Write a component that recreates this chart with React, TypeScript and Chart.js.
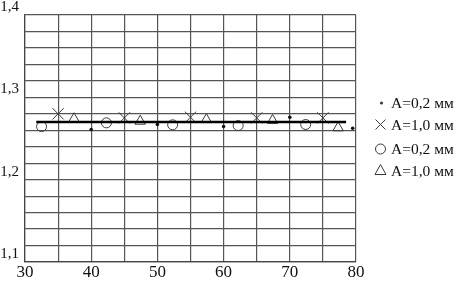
import React, { useEffect, useRef } from "react";
import { Chart, registerables } from "chart.js";

Chart.register(...registerables);

const lineX = [31.7, 78.5];
const lineY = [1.27, 1.27];

const dotX = [40, 50, 60, 70, 79.5];
const dotY = [1.261, 1.267, 1.2645, 1.2758, 1.2625];

const crossX = [35, 45, 55, 65, 75];
const crossY = [1.28, 1.275, 1.2758, 1.275, 1.275];

const circleX = [32.5, 42.3, 52.3, 62.2, 72.4];
const circleY = [1.2645, 1.269, 1.2666, 1.2657, 1.267];

const triX = [37.4, 47.4, 57.4, 67.4, 77.3];
const triY = [1.274, 1.271, 1.273, 1.272, 1.263];

const legendLabels = ["A=0,2 мм", "A=1,0 мм", "A=0,2 мм", "A=1,0 мм"];
const legendStyles = ["dot", "cross", "circle", "triangle"];

const FONT = "'Liberation Serif', 'Times New Roman', serif";
const MARK = "#3a3a3a";

const pts = (xs: number[], ys: number[]) => xs.map((x, i) => ({ x, y: ys[i] }));

const legendPlugin = {
  id: "customLegend",
  afterDraw(chart: any) {
    const ctx = chart.ctx;
    const ys = [103, 124.5, 149, 170.5];
    ctx.save();
    ctx.font = `15.5px ${FONT}`;
    ctx.textBaseline = "middle";
    ctx.textAlign = "left";
    legendStyles.forEach((s, i) => {
      const y = ys[i];
      const mx = 380.5;
      ctx.strokeStyle = MARK;
      ctx.fillStyle = MARK;
      ctx.lineWidth = 1;
      ctx.beginPath();
      if (s === "dot") {
        ctx.arc(mx + 1, y, 1.6, 0, Math.PI * 2);
        ctx.fill();
      } else if (s === "cross") {
        ctx.moveTo(mx - 5, y - 5);
        ctx.lineTo(mx + 5, y + 5);
        ctx.moveTo(mx + 5, y - 5);
        ctx.lineTo(mx - 5, y + 5);
        ctx.stroke();
      } else if (s === "circle") {
        ctx.arc(mx, y, 5, 0, Math.PI * 2);
        ctx.stroke();
      } else {
        ctx.moveTo(mx, y - 6);
        ctx.lineTo(mx + 5.5, y + 4);
        ctx.lineTo(mx - 5.5, y + 4);
        ctx.closePath();
        ctx.stroke();
      }
      ctx.fillStyle = "#111";
      ctx.fillText(legendLabels[i], 391, y + 1);
    });
    ctx.restore();
  },
};

export default function App() {
  const ref = useRef<HTMLCanvasElement | null>(null);
  useEffect(() => {
    document.body.style.margin = "0";
    if (!ref.current) return;
    const chart = new Chart(ref.current, {
      type: "scatter",
      data: {
        datasets: [
          {
            type: "line",
            data: pts(lineX, lineY),
            borderColor: "#000",
            borderWidth: 2.5,
            pointRadius: 0,
            showLine: true,
          } as any,
          {
            data: pts(dotX, dotY),
            pointStyle: "circle",
            pointRadius: 1.8,
            backgroundColor: "#111",
            borderColor: "#111",
            borderWidth: 0,
          },
          {
            data: pts(crossX, crossY),
            pointStyle: "crossRot",
            pointRadius: 8,
            borderColor: MARK,
            borderWidth: 1,
          },
          {
            data: pts(circleX, circleY),
            pointStyle: "circle",
            pointRadius: 5,
            backgroundColor: "rgba(255,255,255,0)",
            borderColor: MARK,
            borderWidth: 1,
          },
          {
            data: pts(triX, triY),
            pointStyle: "triangle",
            pointRadius: 6,
            backgroundColor: "rgba(255,255,255,0)",
            borderColor: MARK,
            borderWidth: 1,
          },
        ],
      },
      options: {
        animation: false,
        responsive: false,
        maintainAspectRatio: false,
        layout: { padding: { top: 14, right: 104, left: 0, bottom: 0 } },
        plugins: { legend: { display: false }, tooltip: { enabled: false } },
        scales: {
          x: {
            type: "linear",
            min: 30,
            max: 80,
            ticks: {
              stepSize: 5,
              padding: 0,
              color: "#111",
              font: { family: FONT, size: 17 },
              callback: (v: any) => (Math.round(v) % 10 === 0 ? String(v) : ""),
              maxRotation: 0,
              autoSkip: false,
            },
            grid: { color: "#555", lineWidth: 1.2, drawTicks: false },
            border: { color: "#444", width: 1.2 },
            afterFit: (s: any) => {
              s.height = 19;
            },
          },
          y: {
            type: "linear",
            min: 1.1,
            max: 1.4,
            ticks: {
              stepSize: 0.02,
              padding: 6,
              labelOffset: -8,
              color: "#111",
              font: { family: FONT, size: 15 },
              autoSkip: false,
              callback: (v: any) => {
                const n = Math.round(v * 100);
                return n % 10 === 0 ? (n / 100).toFixed(1).replace(".", ",") : "";
              },
            },
            grid: { color: "#555", lineWidth: 1.2, drawTicks: false },
            border: { color: "#444", width: 1.2 },
            afterFit: (s: any) => {
              s.width = 25;
            },
          },
        },
      },
      plugins: [legendPlugin],
    });
    return () => chart.destroy();
  }, []);
  return (
    <div style={{ width: 460, height: 281, background: "#fff" }}>
      <canvas ref={ref} width={460} height={281} style={{ display: "block" }} />
    </div>
  );
}
